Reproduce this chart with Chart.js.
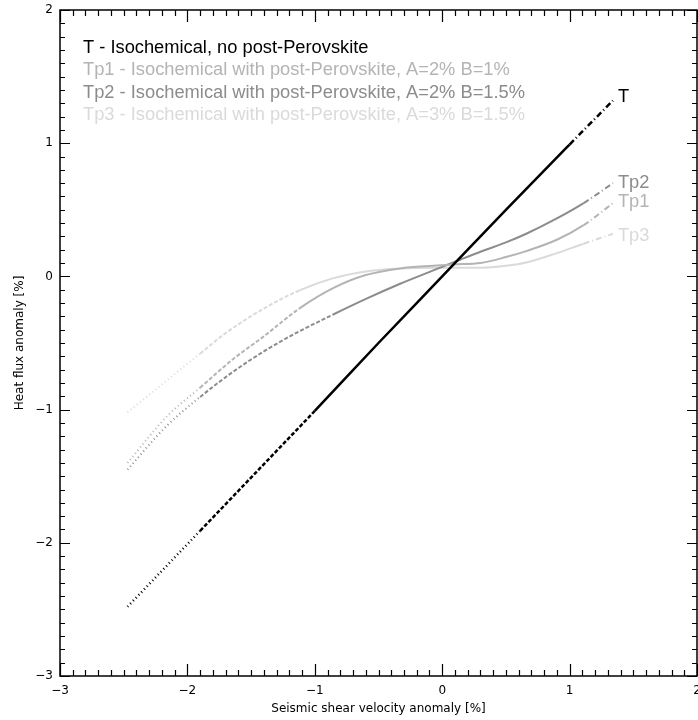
<!DOCTYPE html>
<html>
<head>
<meta charset="utf-8">
<script src="https://cdn.jsdelivr.net/npm/chart.js@4"></script>
<style>
  html, body { margin: 0; padding: 0; background: #fff; }
  #wrap { width: 698px; height: 720px; position: relative; }
</style>
</head>
<body>
<div id="wrap"><canvas id="chart"></canvas></div>
<script>
// ---- data ----
const shortNames = ['T', 'Tp1', 'Tp2', 'Tp3'];
const seriesNames = [
  'T - Isochemical, no post-Perovskite',
  'Tp1 - Isochemical with post-Perovskite, A=2% B=1%',
  'Tp2 - Isochemical with post-Perovskite, A=2% B=1.5%',
  'Tp3 - Isochemical with post-Perovskite, A=3% B=1.5%'
];
const seriesColors = ['#000000', '#b4b4b4', '#8c8c8c', '#dadada'];

const xT = [-2.47, -2.2, -1.9, -1.6, -1.3, -1.0, -0.5, 0.0, 0.5, 1.0, 1.34];
const yT = [-2.48, -2.21, -1.91, -1.61, -1.31, -1.01, -0.50, 0.0, 0.50, 0.99, 1.32];

const xTp1 = [-2.47, -2.16, -1.9, -1.64, -1.4, -1.12, -0.86, -0.6, -0.33, -0.07, 0.09, 0.3, 0.5, 0.66, 0.9, 1.11, 1.34];
const yTp1 = [-1.40, -1.05, -0.835, -0.62, -0.45, -0.24, -0.09, 0.01, 0.06, 0.08, 0.09, 0.10, 0.145, 0.19, 0.275, 0.385, 0.55];

const xTp2 = [-2.47, -2.16, -1.9, -1.64, -1.4, -1.17, -0.86, -0.59, -0.33, -0.07, 0.14, 0.3, 0.5, 0.66, 0.9, 1.11, 1.34];
const yTp2 = [-1.45, -1.12, -0.905, -0.715, -0.563, -0.437, -0.288, -0.165, -0.055, 0.045, 0.125, 0.185, 0.255, 0.32, 0.435, 0.55, 0.70];

const xTp3 = [-2.47, -2.16, -1.9, -1.72, -1.38, -1.12, -0.86, -0.6, -0.33, 0.0, 0.3, 0.5, 0.66, 0.9, 1.11, 1.34];
const yTp3 = [-1.02, -0.78, -0.58, -0.44, -0.23, -0.105, -0.015, 0.037, 0.06, 0.065, 0.065, 0.08, 0.105, 0.175, 0.245, 0.32];

const xRange = [-3, 2];
const yRange = [-3, 2];

const toPts = (xs, ys) => xs.map((x, i) => ({ x, y: ys[i] }));
const seriesData = [toPts(xT, yT), toPts(xTp1, yTp1), toPts(xTp2, yTp2), toPts(xTp3, yTp3)];

const fmt = v => (v < 0 ? '\u2212' + Math.abs(v) : String(v));

// sparse tails, like the scattered points at both ends
const dashFor = ctx => {
  const x0 = ctx.p0.parsed.x;
  if (x0 < -2.1) return [1, 3];
  if (x0 < -1.15) return [4, 2];
  if (x0 >= 0.95) return [6, 3, 1, 3];
  return undefined;
};

/* ==== frame + inward ticks, IDL style ==== */
const framePlugin = {
  id: 'frame',
  afterDraw(chart) {
    const { ctx, chartArea: a, scales } = chart;
    const xs = scales.x, ys = scales.y;
    ctx.save();
    ctx.strokeStyle = '#000';
    ctx.lineWidth = 1.5;
    ctx.strokeRect(a.left, a.top, a.right - a.left, a.bottom - a.top);
    ctx.lineWidth = 1.2;
    ctx.beginPath();
    for (let i = 0; i <= 50; i++) {
      const v = xRange[0] + i * 0.1;
      const p = Math.round(xs.getPixelForValue(v)) + 0.5;
      const len = i % 10 === 0 ? 12 : 6;
      ctx.moveTo(p, a.bottom); ctx.lineTo(p, a.bottom - len);
      ctx.moveTo(p, a.top); ctx.lineTo(p, a.top + len);
    }
    for (let i = 0; i <= 50; i++) {
      const v = yRange[0] + i * 0.1;
      const p = Math.round(ys.getPixelForValue(v)) + 0.5;
      const len = i % 10 === 0 ? 10 : 5;
      ctx.moveTo(a.left, p); ctx.lineTo(a.left + len, p);
      ctx.moveTo(a.right, p); ctx.lineTo(a.right - len, p);
    }
    ctx.stroke();
    ctx.restore();
  }
};

/* ==== legend text + end labels ==== */
const labelDy = [-4, -1, 0, 2];
const textPlugin = {
  id: 'texts',
  afterDatasetsDraw(chart) {
    const { ctx, chartArea: a, scales } = chart;
    ctx.save();
    ctx.font = '18.3px "Liberation Sans", Arial, sans-serif';
    ctx.textBaseline = 'middle';
    ctx.textAlign = 'left';
    seriesNames.forEach((name, i) => {
      ctx.fillStyle = seriesColors[i];
      ctx.fillText(name, a.left + 23, 48 + i * 22.3);
    });
    chart.data.datasets.forEach((ds, i) => {
      const last = ds.data[ds.data.length - 1];
      const px = scales.x.getPixelForValue(last.x);
      const py = scales.y.getPixelForValue(last.y);
      ctx.fillStyle = seriesColors[i];
      ctx.fillText(shortNames[i], px + 5, py + labelDy[i]);
    });
    ctx.restore();
  }
};

const buildChart = () => {
  const canvas = document.getElementById('chart');
  canvas.width = 698;
  canvas.height = 720;

  const tickFont = { family: '"DejaVu Sans", sans-serif', size: 12 };

  // eslint-disable-next-line no-unused-vars
  const chart = new Chart(canvas.getContext('2d'), {
    type: 'line',
    data: {
      datasets: seriesData.map((data, i) => ({
        label: shortNames[i],
        data,
        borderColor: seriesColors[i],
        borderWidth: i === 0 ? 2.5 : 2,
        pointRadius: 0,
        fill: false,
        cubicInterpolationMode: 'monotone',
        segment: { borderDash: dashFor }
      }))
    },
    options: {
      responsive: false,
      animation: false,
      layout: { padding: { top: 10, right: 1, left: 0, bottom: 0 } },
      plugins: { legend: { display: false }, tooltip: { enabled: false } },
      scales: {
        x: {
          type: 'linear',
          min: xRange[0], max: xRange[1],
          afterFit: s => { s.height = 44; s.paddingLeft = 0; s.paddingRight = 0; },
          grid: { display: false, drawTicks: false },
          border: { display: false },
          ticks: { stepSize: 1, padding: 8, color: '#000', font: tickFont, callback: v => fmt(v) },
          title: {
            display: true, text: 'Seismic shear velocity anomaly [%]', color: '#000',
            font: tickFont, padding: { top: 2 }
          }
        },
        y: {
          type: 'linear',
          min: yRange[0], max: yRange[1],
          afterFit: s => { s.width = 60; s.paddingTop = 0; s.paddingBottom = 0; },
          grid: { display: false, drawTicks: false },
          border: { display: false },
          ticks: { stepSize: 1, padding: 7, color: '#000', font: tickFont, callback: v => fmt(v) },
          title: {
            display: true, text: 'Heat flux anomaly [%]', color: '#000',
            font: tickFont, padding: { top: 13, bottom: 4 }
          }
        }
      }
    },
    plugins: [framePlugin, textPlugin]
  });
};
buildChart();
</script>
</body>
</html>
